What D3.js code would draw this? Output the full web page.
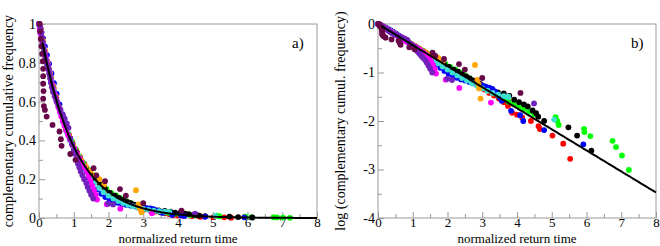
<!DOCTYPE html>
<html>
<head>
<meta charset="utf-8">
<script src="https://cdn.jsdelivr.net/npm/d3@7"></script>
<style>
  body { margin: 0; background: #fff; }
  svg text { font-family: "Liberation Serif", "Times New Roman", Times, "DejaVu Serif", "Noto Serif", serif !important; }
</style>
</head>
<body>
<div id="chart"></div>
<script>
// complementary cumulative frequency of normalized return times, one array pair per series
const blackX = [0, 0.04, 0.08, 0.13, 0.18, 0.24, 0.30, 0.37, 0.44, 0.52, 0.60, 0.69, 0.78, 0.88, 0.98, 1.10, 1.22, 1.35, 1.48, 1.62, 1.76, 1.90, 2.04, 2.18, 2.30, 2.42, 2.54, 2.64, 2.74, 2.84, 2.94, 3.04, 3.14, 3.30, 3.45, 3.62, 3.78, 3.92, 4.06, 4.20, 4.31, 4.45, 4.55, 4.61, 4.78, 5.48, 5.73, 6.14];
const blackY = [1.0, 0.965, 0.93, 0.885, 0.84, 0.79, 0.745, 0.695, 0.65, 0.60, 0.555, 0.505, 0.46, 0.415, 0.375, 0.335, 0.295, 0.26, 0.228, 0.198, 0.172, 0.15, 0.13, 0.115, 0.104, 0.093, 0.083, 0.076, 0.069, 0.064, 0.058, 0.052, 0.047, 0.043, 0.039, 0.0372, 0.033, 0.0275, 0.0245, 0.022, 0.020, 0.0165, 0.0145, 0.0123, 0.010, 0.0074, 0.0050, 0.00245];

const redX = [0.02, 0.06, 0.11, 0.16, 0.22, 0.28, 0.35, 0.42, 0.50, 0.58, 0.67, 0.76, 0.86, 0.96, 1.07, 1.18, 1.30, 1.42, 1.55, 1.68, 1.82, 1.96, 2.10, 2.24, 2.38, 2.52, 2.66, 2.80, 2.94, 3.06, 3.20, 3.34, 3.48, 3.62, 3.74, 3.86, 4.00, 4.15, 4.40, 4.62, 4.66, 5.02, 5.33, 5.53];
const redY = [0.99, 0.955, 0.91, 0.865, 0.815, 0.77, 0.72, 0.67, 0.62, 0.57, 0.52, 0.48, 0.43, 0.39, 0.35, 0.315, 0.28, 0.245, 0.213, 0.186, 0.16, 0.138, 0.12, 0.104, 0.09, 0.078, 0.068, 0.059, 0.050, 0.0445, 0.038, 0.0335, 0.029, 0.0245, 0.0205, 0.0148, 0.0135, 0.0118, 0.0100, 0.0078, 0.0068, 0.0050, 0.0034, 0.00166];

const greenX = [0.01, 0.05, 0.09, 0.14, 0.20, 0.26, 0.33, 0.40, 0.48, 0.56, 0.65, 0.74, 0.84, 0.94, 1.05, 1.16, 1.28, 1.40, 1.53, 1.66, 1.80, 1.94, 2.08, 2.22, 2.36, 2.50, 2.64, 2.78, 2.92, 3.06, 3.20, 3.34, 3.48, 3.62, 3.76, 3.90, 4.05, 4.20, 4.35, 4.50, 5.11, 5.16, 5.20, 5.93, 5.94, 6.11, 6.75, 6.85, 7.02, 7.22];
const greenY = [0.995, 0.955, 0.915, 0.87, 0.82, 0.775, 0.725, 0.675, 0.625, 0.575, 0.525, 0.48, 0.435, 0.395, 0.355, 0.318, 0.283, 0.252, 0.222, 0.196, 0.172, 0.15, 0.13, 0.116, 0.101, 0.088, 0.076, 0.066, 0.057, 0.0495, 0.043, 0.037, 0.0325, 0.0285, 0.025, 0.0222, 0.0198, 0.0176, 0.0156, 0.0137, 0.0120, 0.0100, 0.0083, 0.0069, 0.0059, 0.0049, 0.0039, 0.0029, 0.00195, 0.00098];

const blueX = [0, 0.03, 0.07, 0.12, 0.17, 0.23, 0.29, 0.36, 0.43, 0.51, 0.59, 0.68, 0.77, 0.87, 0.97, 1.08, 1.19, 1.31, 1.43, 1.55, 1.67, 1.79, 1.91, 2.03, 2.15, 2.27, 2.39, 2.51, 2.63, 2.75, 2.87, 2.99, 3.10, 3.20, 3.29, 3.36, 3.44, 3.50, 3.56, 3.83, 4.09, 4.18, 4.78, 5.91];
const blueY = [1.0, 0.985, 0.96, 0.925, 0.885, 0.84, 0.795, 0.745, 0.695, 0.64, 0.585, 0.53, 0.475, 0.42, 0.375, 0.33, 0.29, 0.25, 0.21, 0.175, 0.148, 0.125, 0.108, 0.094, 0.085, 0.078, 0.072, 0.068, 0.064, 0.060, 0.057, 0.054, 0.051, 0.049, 0.046, 0.041, 0.036, 0.031, 0.026, 0.0162, 0.0132, 0.0100, 0.0065, 0.0033];

const turqX = [0, 0.04, 0.09, 0.15, 0.21, 0.28, 0.35, 0.43, 0.51, 0.60, 0.69, 0.79, 0.89, 1.00, 1.11, 1.23, 1.35, 1.47, 1.60, 1.73, 1.86, 2.00, 2.14, 2.28, 2.42, 2.56, 2.70, 2.85, 3.00, 3.15, 3.30, 3.46, 3.62, 3.75, 5.07];
const turqY = [0.995, 0.965, 0.92, 0.87, 0.82, 0.765, 0.71, 0.655, 0.60, 0.545, 0.495, 0.445, 0.40, 0.355, 0.315, 0.275, 0.24, 0.21, 0.18, 0.155, 0.133, 0.115, 0.10, 0.087, 0.077, 0.068, 0.060, 0.053, 0.047, 0.042, 0.038, 0.035, 0.0325, 0.0316, 0.0107];

const orangeX = [0.02, 0.06, 0.12, 0.18, 0.25, 0.32, 0.40, 0.48, 0.57, 0.66, 0.76, 0.87, 0.98, 1.10, 1.22, 1.35, 1.48, 1.62, 1.74, 1.87, 2.79, 2.86, 2.89, 2.91, 2.95];
const orangeY = [1.0, 0.97, 0.915, 0.86, 0.80, 0.745, 0.685, 0.63, 0.575, 0.52, 0.47, 0.42, 0.375, 0.33, 0.295, 0.265, 0.243, 0.22, 0.20, 0.171, 0.143, 0.07, 0.058, 0.047, 0.029];

const magentaX = [0.00, 0.02, 0.04, 0.07, 0.10, 0.13, 0.16, 0.19, 0.22, 0.25, 0.28, 0.31, 0.34, 0.37, 0.40, 0.44, 0.48, 0.52, 0.56, 0.60, 0.64, 0.68, 0.73, 0.78, 0.83, 0.89, 0.95, 1.02, 1.09, 1.16, 1.23, 1.30, 1.37, 1.43, 1.48, 1.53, 1.58, 1.63, 1.67, 1.95, 2.34, 3.25];
const magentaY = [1.0, 0.976, 0.952, 0.929, 0.905, 0.881, 0.857, 0.833, 0.81, 0.786, 0.762, 0.738, 0.714, 0.69, 0.667, 0.643, 0.619, 0.595, 0.571, 0.548, 0.524, 0.5, 0.476, 0.452, 0.429, 0.405, 0.381, 0.357, 0.333, 0.31, 0.286, 0.262, 0.238, 0.214, 0.19, 0.167, 0.143, 0.119, 0.095, 0.071, 0.048, 0.024];

const indigoX = [0.02, 0.05, 0.07, 0.09, 0.11, 0.13, 0.15, 0.17, 0.20, 0.24, 0.28, 0.30, 0.32, 0.34, 0.37, 0.40, 0.45, 0.50, 0.56, 0.62, 0.68, 0.74, 0.80, 0.85, 0.90, 0.95, 1.00, 1.04, 1.08, 1.12, 1.16, 1.20, 1.25, 1.30, 1.36, 1.40, 1.45, 1.50, 1.56, 1.99, 2.13, 4.49];
const indigoY = [1.0, 0.977, 0.953, 0.93, 0.907, 0.884, 0.86, 0.837, 0.814, 0.791, 0.767, 0.744, 0.721, 0.698, 0.674, 0.651, 0.628, 0.605, 0.581, 0.558, 0.535, 0.512, 0.488, 0.465, 0.41, 0.38, 0.35, 0.33, 0.30, 0.28, 0.26, 0.24, 0.22, 0.20, 0.18, 0.16, 0.14, 0.12, 0.10, 0.074, 0.07, 0.023];

const maroonX = [0.01, 0.03, 0.05, 0.07, 0.09, 0.11, 0.12, 0.12, 0.12, 0.13, 0.12, 0.14, 0.17, 0.22, 0.39, 0.59, 0.63, 0.65, 0.90, 1.05, 1.57, 1.65, 1.90, 2.33, 2.50, 3.00, 4.10];
const maroonY = [1.0, 0.962, 0.923, 0.885, 0.846, 0.808, 0.769, 0.731, 0.692, 0.654, 0.615, 0.577, 0.557, 0.523, 0.48, 0.446, 0.406, 0.372, 0.33, 0.30, 0.257, 0.22, 0.19, 0.149, 0.115, 0.077, 0.038];

// exponential fit exp(-rate * t)
const fitRate = 1;
const fitStart = 0.1;

const xTicks = [0, 1, 2, 3, 4, 5, 6, 7, 8];
const yTicksA = [0, 0.2, 0.4, 0.6, 0.8, 1];
const yLabelsA = ["0", "0.2", "0.4", "0.6", "0.8", "1"];
const yTicksB = [0, -1, -2, -3, -4];
const yLabelsB = ["0", "-1", "-2", "-3", "-4"];

const series = [
  {x: redX, y: redY, color: "#ff0000"},
  {x: greenX, y: greenY, color: "#00ff00"},
  {x: blackX, y: blackY, color: "#000000"},
  {x: blueX, y: blueY, color: "#0000ff"},
  {x: turqX, y: turqY, color: "#40e0d0"},
  {x: orangeX, y: orangeY, color: "#ffa500"},
  {x: magentaX, y: magentaY, color: "#ff00ff"},
  {x: indigoX, y: indigoY, color: "#7221bc"},
  {x: maroonX, y: maroonY, color: "#670748"}
];

const W = 660, H = 246;
const frameColor = "#999";
const serif = '"Liberation Serif", "Times New Roman", Times, "DejaVu Serif", "Noto Serif", serif';

const svg = d3.select("#chart")
  .append("svg")
  .attr("width", W)
  .attr("height", H)
  .attr("font-family", serif);

function drawPanel(opt) {
  const width = 278, height = 194;
  const g = svg.append("g")
    .attr("transform", "translate(" + opt.left + "," + opt.top + ")");

  let x = d3.scaleLinear().domain([0, 8]).range([0, width]);
  let y = d3.scaleLinear().domain(opt.yDomain).range([height, 0]);

  // frame
  g.append("rect")
    .attr("width", width)
    .attr("height", height)
    .attr("fill", "none")
    .attr("stroke", frameColor)
    .attr("stroke-width", 1);

  // minor ticks first, then majors with labels
  const xMinor = d3.range(0.5, 8, 1);
  g.append("g")
    .attr("transform", "translate(0," + height + ")")
    .call(d3.axisBottom(x).tickValues(xMinor).tickSize(-4).tickFormat(""))
    .call(a => a.select(".domain").remove());
  const xa = g.append("g")
    .attr("transform", "translate(0," + height + ")")
    .call(d3.axisBottom(x).tickValues(xTicks).tickSize(-6).tickPadding(0).tickFormat(d3.format("d")));
  xa.select(".domain").remove();
  xa.selectAll(".tick text").attr("font-size", 13);

  g.append("g")
    .call(d3.axisLeft(y).tickValues(opt.yMinor).tickSize(-4).tickFormat(""))
    .call(a => a.select(".domain").remove());
  const ya = g.append("g")
    .call(d3.axisLeft(y).tickValues(opt.yTicks).tickSize(-6).tickPadding(3)
      .tickFormat((d, i) => opt.yLabels[i]));
  ya.select(".domain").remove();
  ya.selectAll(".tick text").attr("font-size", 14);

  g.selectAll("g").attr("font-family", serif);
  g.selectAll(".tick line").attr("stroke", frameColor);
  g.selectAll(".tick text").attr("fill", "#000");

  // points
  series.forEach(s => {
    g.append("g")
      .selectAll("circle")
      .data(s.x.map((v, i) => ({x: v, y: opt.tf(s.y[i])})))
      .enter()
      .append("circle")
        .attr("cx", d => x(d.x))
        .attr("cy", d => y(d.y))
        .attr("r", 2.9)
        .attr("fill", s.color);
  });

  // fitted exponential
  const fit = d3.range(fitStart, 8.001, 0.05).map(t => ({x: t, y: opt.tf(Math.exp(-fitRate * t))}));
  g.append("path")
    .datum(fit)
    .attr("fill", "none")
    .attr("stroke", "#000")
    .attr("stroke-width", 2)
    .attr("d", d3.line().x(d => x(d.x)).y(d => y(d.y)));

  // axis titles
  g.append("text")
    .attr("x", width / 2)
    .attr("y", height + 25)
    .attr("text-anchor", "middle")
    .attr("font-size", 13)
    .text("normalized return time");

  g.append("text")
    .attr("transform", "translate(" + opt.ylabelX + "," + (height / 2) + ") rotate(-90)")
    .attr("text-anchor", "middle")
    .attr("font-size", 14)
    .text(opt.ylabel);

  g.append("text")
    .attr("x", width - 25)
    .attr("y", 24)
    .attr("font-size", 15)
    .text(opt.tag);
}

drawPanel({
  left: 39, top: 24,
  yDomain: [0, 1],
  yTicks: yTicksA, yLabels: yLabelsA,
  yMinor: [0.1, 0.3, 0.5, 0.7, 0.9],
  tf: v => v,
  ylabel: "complementary cumulative frequency",
  ylabelX: -26,
  tag: "a)"
});

drawPanel({
  left: 378, top: 24,
  yDomain: [-4, 0],
  yTicks: yTicksB, yLabels: yLabelsB,
  yMinor: [-0.5, -1.5, -2.5, -3.5],
  tf: v => Math.log10(v),
  ylabel: "log (complementary cumul. frequency)",
  ylabelX: -33,
  tag: "b)"
});
</script>
</body>
</html>
